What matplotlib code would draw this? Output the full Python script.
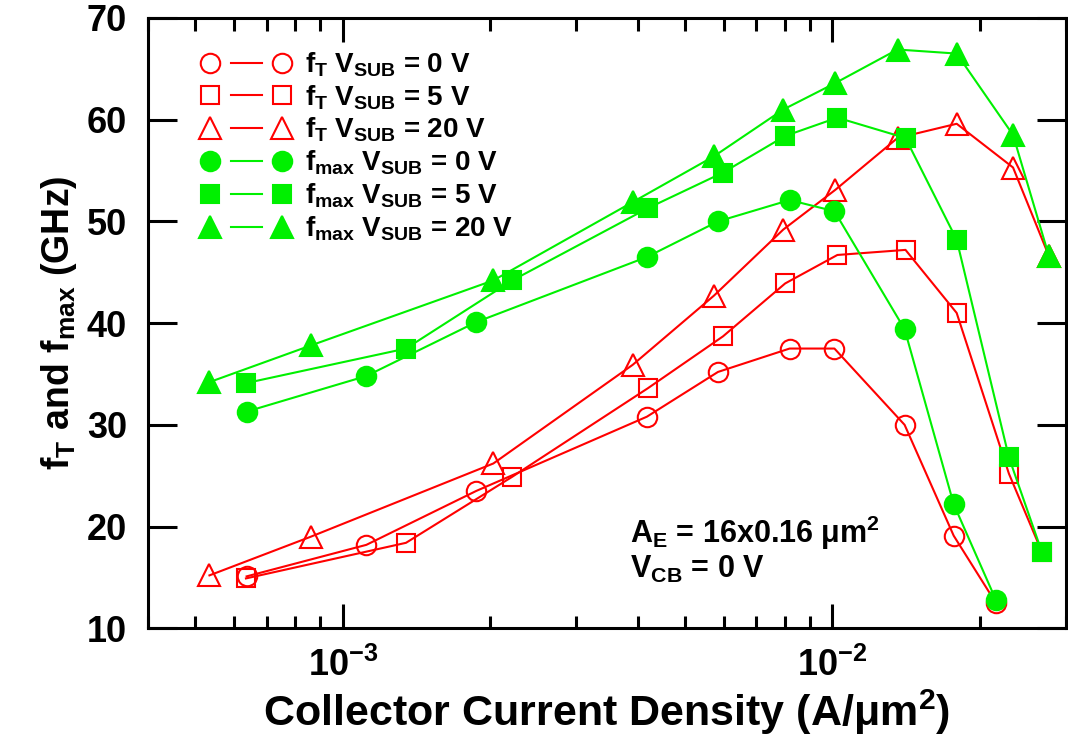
import numpy as np
import matplotlib
matplotlib.use("Agg")
import matplotlib.pyplot as plt
from matplotlib.lines import Line2D
from matplotlib.legend_handler import HandlerBase
from matplotlib.ticker import LogLocator, NullFormatter

# collector current density (A/um^2) for each substrate bias
jc_0v = [6.36e-4, 1.117e-3, 1.873e-3, 4.18e-3, 5.84e-3, 8.18e-3, 1.01e-2, 1.405e-2, 1.77e-2, 2.158e-2]
jc_5v = [6.34e-4, 1.346e-3, 2.22e-3, 4.20e-3, 5.98e-3, 8.01e-3, 1.024e-2, 1.411e-2, 1.795e-2, 2.295e-2, 2.68e-2]
jc_20v = [5.34e-4, 8.60e-4, 2.03e-3, 3.91e-3, 5.73e-3, 7.94e-3, 1.014e-2, 1.359e-2, 1.795e-2, 2.34e-2, 2.77e-2]

# fT (GHz)
ft_0v = [15.1, 18.2, 23.5, 30.8, 35.2, 37.5, 37.5, 30.0, 19.1, 12.5]
ft_5v = [14.9, 18.4, 24.9, 33.6, 38.7, 43.9, 46.7, 47.2, 41.0, 25.2, 17.5]
ft_20v = [15.2, 19.0, 26.2, 35.9, 42.7, 49.2, 53.1, 58.2, 59.6, 55.3, 46.6]

# fmax (GHz)
fmax_0v = [31.3, 34.8, 40.1, 46.5, 50.0, 52.1, 51.0, 39.4, 22.2, 12.8]
fmax_5v = [34.1, 37.5, 44.2, 51.3, 54.8, 58.4, 60.2, 58.2, 48.2, 26.8, 17.5]
fmax_20v = [34.2, 37.8, 44.2, 51.9, 56.4, 61.0, 63.6, 66.9, 66.5, 58.5, 46.6]

RED = '#ff0000'
GREEN = '#00f000'

plt.rcParams['font.family'] = 'Liberation Sans'
plt.rcParams['font.weight'] = 'bold'
plt.rcParams['axes.labelweight'] = 'bold'
plt.rcParams['mathtext.default'] = 'regular'


class GapLineHandler(HandlerBase):
    # marker --- marker, with the line not touching the markers
    def create_artists(self, legend, orig, xdescent, ydescent, width, height, fontsize, trans):
        y = height / 2 - ydescent
        x0, x1 = -xdescent, width - xdescent
        seg = Line2D([x0 + 0.28 * width, x1 - 0.28 * width], [y, y],
                     color=orig.get_color(), lw=orig.get_linewidth())
        pts = Line2D([x0, x1], [y, y], ls='none', marker=orig.get_marker(),
                     markersize=orig.get_markersize(),
                     markerfacecolor=orig.get_markerfacecolor(),
                     markeredgecolor=orig.get_markeredgecolor(),
                     markeredgewidth=orig.get_markeredgewidth())
        seg.set_transform(trans)
        pts.set_transform(trans)
        return [seg, pts]


fig = plt.figure(figsize=(10.68, 7.4), dpi=100)
ax = fig.add_axes([0.1386, 0.151, 0.8594, 0.8247])

lw = 1.5
series = [
    (jc_0v, ft_0v, 'o', RED, 'none', 14, r'$f_T$ $V_{SUB}$ = 0 V'),
    (jc_5v, ft_5v, 's', RED, 'none', 13, r'$f_T$ $V_{SUB}$ = 5 V'),
    (jc_20v, ft_20v, '^', RED, 'none', 16, r'$f_T$ $V_{SUB}$ = 20 V'),
    (jc_0v, fmax_0v, 'o', GREEN, GREEN, 14, r'$f_{max}$ $V_{SUB}$ = 0 V'),
    (jc_5v, fmax_5v, 's', GREEN, GREEN, 13, r'$f_{max}$ $V_{SUB}$ = 5 V'),
    (jc_20v, fmax_20v, '^', GREEN, GREEN, 16, r'$f_{max}$ $V_{SUB}$ = 20 V'),
]
handles = []
for x, y, mk, col, face, ms, lab in series:
    h, = ax.plot(x, y, color=col, lw=lw, marker=mk, markersize=ms,
                 markerfacecolor=face, markeredgecolor=col, markeredgewidth=1.5,
                 label=lab)
    handles.append(h)

ax.set_xscale('log')
ax.set_xlim(4e-4, 3e-2)
ax.set_ylim(10, 70)
ax.set_yticks(np.arange(10, 71, 10))
ax.xaxis.set_minor_locator(LogLocator(base=10, subs=np.arange(2, 10)))
ax.xaxis.set_minor_formatter(NullFormatter())

for s in ax.spines.values():
    s.set_linewidth(2.2)
ax.tick_params(axis='both', which='both', direction='in', top=True, right=True,
               width=2.2, labelsize=26)
ax.tick_params(axis='y', which='major', length=21, pad=15)
ax.tick_params(axis='x', which='major', length=17, pad=14)
ax.tick_params(axis='x', which='minor', length=9)

ax.set_xlabel(r'Collector Current Density (A/$\mu$m$^2$)', fontsize=31, labelpad=3)
ax.set_ylabel(r'$f_T$ and $f_{max}$ (GHz)', fontsize=27, labelpad=6)

leg = ax.legend(handles=handles, loc='upper left', bbox_to_anchor=(0.068, 0.947),
                frameon=False, fontsize=20, handlelength=2.59, handletextpad=0.83,
                labelspacing=0.155, borderpad=0, borderaxespad=0,
                handler_map={Line2D: GapLineHandler()})

ax.text(0.525, 0.14, r'$A_E$ = 16x0.16 $\mu$m$^2$', transform=ax.transAxes,
        fontsize=22, va='baseline')
ax.text(0.525, 0.083, r'$V_{CB}$ = 0 V', transform=ax.transAxes,
        fontsize=22, va='baseline')

fig.savefig('out.png', dpi=100)
